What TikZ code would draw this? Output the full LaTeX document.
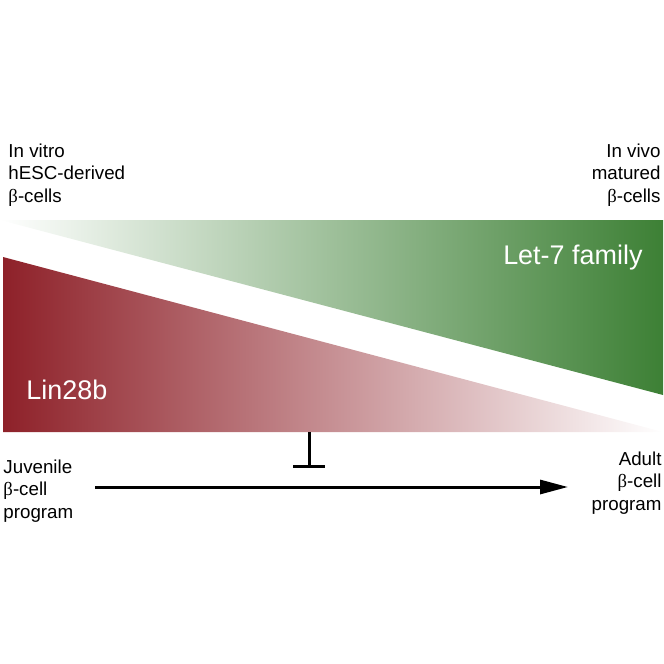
\documentclass[tikz,border=0pt]{standalone}
\usepackage{fontspec}
\setmainfont{Liberation Sans}
\newfontfamily\betafont{Liberation Serif}
\usetikzlibrary{arrows.meta, positioning}
\definecolor{inkcolor}{HTML}{000000}
\definecolor{lingrad}{HTML}{8E2129}
\definecolor{letgrad}{HTML}{3D8035}
\newcommand{\bta}{{\betafont β}}

\begin{document}
\begin{tikzpicture}[
  x=0.03cm, y=-0.03cm,
  every node/.style={font=\fontsize{16}{19.1}\selectfont, inner sep=0pt},
  thick,
]

\tikzset{
  stagelabel/.style={text=inkcolor},
  leftlabel/.style={stagelabel, anchor=base west, align=left},
  rightlabel/.style={stagelabel, anchor=base east, align=right},
  genelabel/.style={text=white, font=\fontsize{23}{27}\selectfont},
  flowline/.style={-{Triangle[length=8.4mm, width=4.2mm]}, inkcolor, line width=0.9mm},
  blockline/.style={-{Bar[width=9.4mm, line width=0.9mm]}, inkcolor, line width=0.9mm},
}

\useasboundingbox (0,0) rectangle (664,664);

% ---------------------------------------------------------------
% Gradients: let-7 rises, Lin28b falls
% ---------------------------------------------------------------
\shade[left color=white, right color=letgrad]
  (0,220) -- (663,220) -- (663,395) -- cycle;
\shade[left color=lingrad, right color=white]
  (3,257) -- (663,432) -- (3,432) -- cycle;

\node[genelabel, anchor=base east] (let7) at (643,264) {Let-7 family};
\node[genelabel, anchor=base west] (lin28) at (26,399) {Lin28b};

% ---------------------------------------------------------------
% Cell sources (base = last line)
% ---------------------------------------------------------------
\node[leftlabel]  (invitro) at (8,202)  {In vitro\\hESC-derived\\\bta-cells};
\node[rightlabel] (invivo)  at (661,202) {In vivo\\matured\\\bta-cells};

% ---------------------------------------------------------------
% Programs
% ---------------------------------------------------------------
\node[leftlabel]  (juvenile) at (3,518)   {Juvenile\\\bta-cell\\program};
\node[rightlabel] (adult)    at (662,510) {Adult\\\bta-cell\\program};

\coordinate (arrowstart) at (95,487);
\coordinate (arrowend)   at (568,487);
\coordinate (blocktop)   at (309,432);
\coordinate (blockend)   at (309,468);

\draw[flowline]  (arrowstart) -- (arrowend);
\draw[blockline] (blocktop) -- (blockend);

\end{tikzpicture}
\end{document}
